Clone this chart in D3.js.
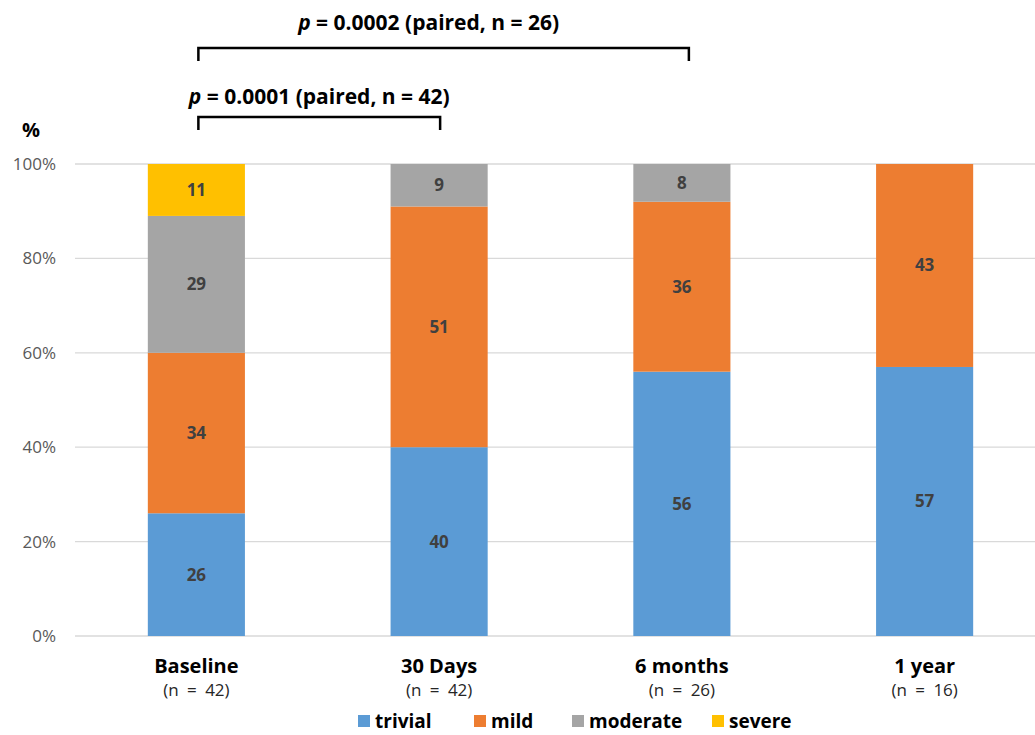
<!DOCTYPE html>
<html><head><meta charset="utf-8">
<script src="https://cdn.jsdelivr.net/npm/d3@7"></script>
<style>body{margin:0;background:#fff}svg{display:block;font-family:"Liberation Sans Narrow","Open Sans",Arial,sans-serif}</style>
</head><body><svg id="c" width="1035" height="735"></svg>
<script>
const categories = ["Baseline","30 Days","6 months","1 year"];
const nLabels = ["(n = 42)","(n = 42)","(n = 26)","(n = 16)"];
const seriesNames = ["trivial","mild","moderate","severe"];
const trivial = [26,40,56,57];
const mild = [34,51,36,43];
const moderate = [29,9,8,0];
const severe = [11,0,0,0];
const colors = ["#5B9BD5","#ED7D31","#A5A5A5","#FFC000"];
const yTicks = [0,20,40,60,80,100];
const comparisons = [
  {from:0,to:1,label:"0.0001 (paired, n = 42)",level:0},
  {from:0,to:2,label:"0.0002 (paired, n = 26)",level:1}
];

const svg = d3.select("#c");
const x = d3.scaleBand().domain(categories).range([75,1046]).paddingInner(0.6).paddingOuter(0.3);
const y = d3.scaleLinear().domain([0,100]).range([636,164]);

svg.append("g").selectAll("line").data(yTicks).join("line")
  .attr("x1",75).attr("x2",1035).attr("y1",d=>y(d)).attr("y2",d=>y(d))
  .attr("stroke","#d9d9d9").attr("stroke-width",1.3);
svg.append("g").selectAll("text").data(yTicks).join("text")
  .attr("x",56).attr("y",d=>y(d)).attr("dy","0.35em").attr("text-anchor","end")
  .attr("fill","#595959").attr("font-size",17).text(d=>d+"%");
svg.append("text").attr("x",22).attr("y",137).attr("fill","#000").attr("font-size",20).attr("font-weight","bold").text("%");

const data = categories.map((c,i)=>({cat:c,trivial:trivial[i],mild:mild[i],moderate:moderate[i],severe:severe[i]}));
const stack = d3.stack().keys(seriesNames)(data);
const g = svg.append("g");
stack.forEach((s,k)=>{
  g.selectAll(null).data(s.filter(d=>d[1]-d[0]>0)).join("rect")
    .attr("x",d=>x(d.data.cat)).attr("width",x.bandwidth())
    .attr("y",d=>y(d[1])).attr("height",d=>y(d[0])-y(d[1]))
    .attr("fill",colors[k]);
  g.selectAll(null).data(s.filter(d=>d[1]-d[0]>0)).join("text")
    .attr("x",d=>x(d.data.cat)+x.bandwidth()/2).attr("y",d=>y((d[0]+d[1])/2)).attr("dy","0.35em")
    .attr("text-anchor","middle").attr("font-weight","bold").attr("font-size",17).attr("fill","#404040")
    .text(d=>d[1]-d[0]);
});

svg.append("g").selectAll("text").data(categories).join("text")
  .attr("x",d=>x(d)+x.bandwidth()/2).attr("y",673).attr("text-anchor","middle")
  .attr("font-weight","bold").attr("font-size",20).attr("fill","#000").text(d=>d);
svg.append("g").selectAll("text").data(nLabels).join("text")
  .attr("x",(d,i)=>x(categories[i])+x.bandwidth()/2).attr("y",696).attr("text-anchor","middle")
  .attr("font-size",17).attr("fill","#262626").style("word-spacing","4px").text(d=>d);

const bY = [117,48], tY = [104,30];
comparisons.forEach(c=>{
  const x1 = x(categories[c.from])+x.bandwidth()/2+2;
  const x2 = x(categories[c.to])+x.bandwidth()/2 + (c.to===2?7:1);
  const yy = bY[c.level];
  svg.append("path").attr("d",`M${x1},${yy+13}V${yy}H${x2}V${yy+13}`)
    .attr("fill","none").attr("stroke","#000").attr("stroke-width",2.5);
  const t = svg.append("text").attr("x",(x1+x2)/2 - (c.level===1?15:0)).attr("y",tY[c.level]).attr("text-anchor","middle")
    .attr("font-weight","bold").attr("font-size",21).attr("fill","#000");
  t.append("tspan").attr("font-style","italic").text("p");
  t.append("tspan").text(" = "+c.label);
});

const legX = [358,474,572,712];
const lg = svg.append("g");
seriesNames.forEach((s,i)=>{
  lg.append("rect").attr("x",legX[i]).attr("y",715).attr("width",12).attr("height",12).attr("fill",colors[i]);
  lg.append("text").attr("x",legX[i]+17).attr("y",728).attr("font-weight","bold").attr("font-size",19).attr("fill","#000").text(s);
});
</script></body></html>
